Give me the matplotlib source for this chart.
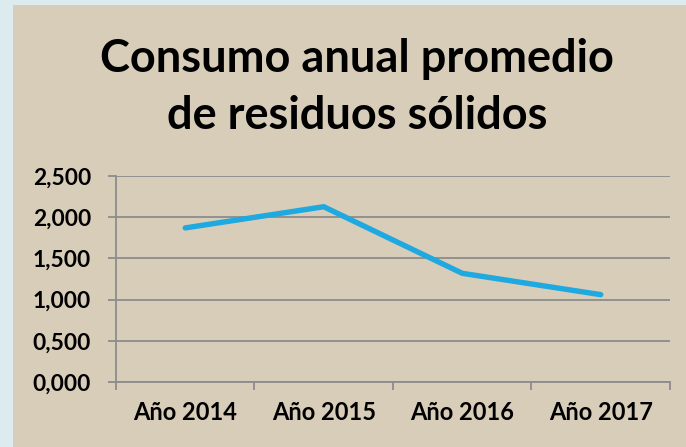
import matplotlib.pyplot as plt
from matplotlib.ticker import FuncFormatter

years = ['Año 2014', 'Año 2015', 'Año 2016', 'Año 2017']
consumo = [1870, 2127, 1319, 1060]
yticks = [0, 500, 1000, 1500, 2000, 2500]

plt.rcParams['font.family'] = ['Lato', 'DejaVu Sans']

W, H = 686, 447
fig = plt.figure(figsize=(W / 100, H / 100), dpi=100)
fig.patch.set_facecolor('#dcebee')

# beige panel behind the chart
bg = fig.add_axes([13 / W, 0, 1 - 13 / W, 1 - 5 / H], zorder=-1)
bg.set_facecolor('#d8cdb9')
bg.set_xticks([])
bg.set_yticks([])
for s in bg.spines.values():
    s.set_visible(False)

ax = fig.add_axes([116 / W, 1 - 382 / H, (670 - 116) / W, (382 - 176) / H])
ax.set_facecolor('none')

ax.plot(range(len(years)), consumo, color='#1fa9e1', linewidth=3.9,
        solid_capstyle='round', solid_joinstyle='miter', zorder=3)

ax.set_xlim(-0.5, len(years) - 0.5)
ax.set_ylim(0, 2500)
ax.set_yticks(yticks)
ax.yaxis.set_major_formatter(FuncFormatter(
    lambda v, p: '{:,.3f}'.format(v / 1000).replace('.', ',')))
ax.set_xticks(range(len(years)))
ax.set_xticklabels(years)
ax.set_xticks([i - 0.5 for i in range(len(years) + 1)], minor=True)

ax.grid(axis='y', color='#8c8c8c', linewidth=1.3)
for s in ['top', 'right']:
    ax.spines[s].set_visible(False)
for s in ['left', 'bottom']:
    ax.spines[s].set_color('#8c8c8c')
    ax.spines[s].set_linewidth(1.3)

ax.tick_params(axis='y', length=6, color='#8c8c8c', width=1.3, pad=12,
               labelsize=16.4)
ax.tick_params(axis='x', which='major', length=0, pad=14, labelsize=17)
ax.tick_params(axis='x', which='minor', length=6, color='#8c8c8c', width=1.3)
for lab in ax.get_xticklabels() + ax.get_yticklabels():
    lab.set_fontweight('bold')

fig.text(357 / W, 1 - 72 / H, 'Consumo anual promedio', ha='center',
         va='baseline', fontsize=32.5, fontweight='bold')
fig.text(357 / W, 1 - 129 / H, 'de residuos sólidos', ha='center',
         va='baseline', fontsize=32.5, fontweight='bold')

fig.savefig('out.png', dpi=100, facecolor=fig.get_facecolor())
